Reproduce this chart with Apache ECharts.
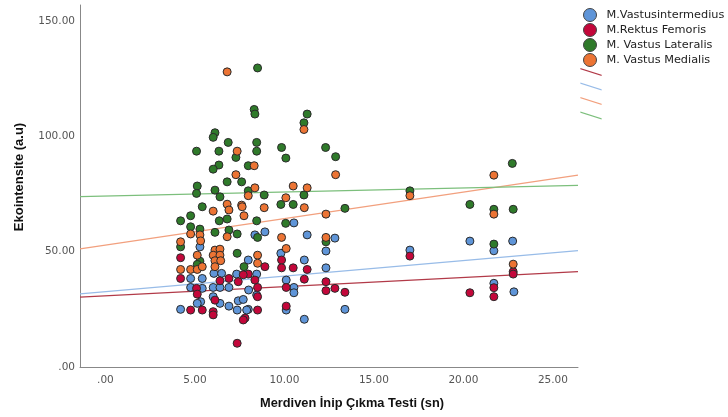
<!DOCTYPE html>
<html>
<head>
<meta charset="utf-8">
<script src="https://cdn.jsdelivr.net/npm/echarts@6/dist/echarts.min.js"></script>
<style>
  body { margin: 0; background: #fff; }
  #main { width: 728px; height: 417px; }
</style>
</head>
<body>
<div id="main"></div>
<script>
// seri isimleri
var seriesNames = ['M.Vastusintermedius', 'M.Rektus Femoris', 'M. Vastus Lateralis', 'M. Vastus Medialis'];
var xTicks = [0, 5, 10, 15, 20, 25];
var yTicks = [0, 50, 100, 150];

// [sure (sn), ekointensite]
var vastusIntermedius = [
    [10.53,62.5],[8.91,58.6],[11.27,57.3],[12.82,55.9],[12.32,50.3],[8.35,57.3],[9.80,49.3],[7.98,46.4],
    [11.11,46.4],[12.32,43.0],[8.45,40.3],[10.1,37.7],[10.53,34.5],[10.53,32.2],[8.45,31.2],[10.1,24.7],
    [7.98,25.0],[13.38,25.0],[11.11,20.7],[5.28,52.1],[4.76,38.4],[5.41,38.4],[6.06,40.6],[6.49,40.6],
    [7.33,40.3],[4.76,34.5],[5.41,34.1],[6.02,34.5],[6.4,34.5],[6.9,34.5],[6.02,30.5],[5.32,28.3],
    [5.13,27.6],[6.4,27.6],[6.9,26.4],[7.42,28.7],[4.2,25.0],[7.36,24.7],[7.89,24.7],[7.7,29.3],[8.0,33.4],
    [17.01,50.7],[20.36,54.6],[21.7,50.4],[22.75,54.6],[21.7,36.3],[22.82,32.6]
];
var rektusFemoris = [
    [9.84,46.4],[8.91,43.5],[9.84,43.0],[10.49,43.0],[11.27,42.3],[7.98,40.3],[8.35,37.7],[11.11,38.1],
    [12.32,37.0],[12.32,33.1],[12.82,34.1],[13.38,32.4],[10.1,34.5],[8.5,34.5],[8.5,30.5],[10.1,26.4],
    [8.5,24.7],[7.8,21.2],[4.2,47.4],[4.2,38.4],[6.9,38.4],[6.4,37.4],[5.09,34.1],[5.13,31.6],[4.76,24.7],
    [5.41,24.7],[6.02,24.0],[6.12,29.0],[7.7,20.4],[7.36,10.3],[6.02,22.6],[7.42,37.0],[7.7,40.0],
    [17.01,48.1],[20.36,32.2],[21.7,34.4],[21.7,30.5],[22.78,41.3],[22.78,40.3]
];
var vastusLateralis = [
    [8.50,129.7],[8.31,111.7],[8.35,109.7],[11.27,109.7],[11.09,105.9],[6.12,101.6],[6.02,99.6],[6.86,97.4],
    [8.45,97.4],[5.09,93.6],[6.34,93.6],[8.45,93.6],[7.29,90.9],[9.84,95.2],[10.08,90.6],[12.30,95.2],
    [12.86,91.2],[6.34,87.6],[6.02,85.8],[7.98,87.3],[6.80,80.3],[7.61,80.3],[5.13,78.5],[5.09,75.3],
    [6.12,76.7],[7.98,76.4],[8.87,74.6],[11.09,74.6],[6.40,73.8],[9.80,70.5],[10.49,70.5],[13.38,68.8],
    [8.45,63.4],[10.07,62.3],[8.5,56.2],[12.32,54.3],[5.41,69.5],[4.76,65.6],[4.2,63.4],[6.36,63.4],
    [6.80,64.2],[4.76,60.8],[5.28,59.8],[6.12,58.4],[6.9,59.4],[7.36,57.7],[4.2,52.1],[7.36,49.3],
    [5.28,45.9],[5.13,44.5],[7.74,43.5],
    [22.73,88.3],[17.01,76.4],[20.36,70.5],[21.7,68.4],[22.78,68.4],[21.7,53.3]
];
var vastusMedialis = [
    [6.80,128.0],[7.36,93.6],[11.09,103.0],[8.31,87.3],[7.29,83.4],[12.86,83.4],[8.35,77.7],[10.49,78.5],
    [11.27,77.7],[7.98,74.3],[10.08,73.4],[8.87,69.1],[11.11,69.1],[12.32,66.3],[9.84,56.2],[10.1,51.4],
    [12.32,56.2],[8.5,48.5],[8.5,45.0],[6.8,70.6],[7.61,70.2],[6.02,67.6],[6.9,68.1],[7.64,69.5],
    [7.74,65.6],[4.76,57.7],[5.28,57.3],[4.2,54.3],[5.32,54.7],[6.80,56.5],[5.13,48.5],[6.12,50.7],
    [6.4,51.1],[6.02,48.5],[6.4,48.5],[6.12,46.1],[6.44,46.1],[4.2,42.3],[4.76,42.3],[5.13,42.3],
    [5.41,43.5],[6.12,43.5],
    [21.7,83.2],[17.01,74.3],[21.7,66.3],[22.78,44.6]
];

// dogrusal uyum cizgileri (eksen uclarinda)
var fitRektus = [[-1.42, 30.3], [26.4, 41.4]];
var fitIntermedius = [[-1.42, 31.7], [26.4, 50.5]];
var fitMedialis = [[-1.42, 51.2], [26.4, 83.2]];
var fitLateralis = [[-1.42, 73.9], [26.4, 78.8]];

var pointColors = ['#5f95d8', '#c3073a', '#2f7a2a', '#ec7434'];
var fitColors = ['#b23a48', '#98bce8', '#f2a07e', '#7cbf7c'];

function fmt(v) {
    var s = v.toFixed(2);
    return v === 0 ? s.substring(1) : s;
}

function scatter(name, data, color) {
    return {
        name: name,
        type: 'scatter',
        data: data,
        symbolSize: 8,
        itemStyle: { color: color, borderColor: '#2a2a2a', borderWidth: 1, opacity: 1 },
        z: 3
    };
}

function fitLine(name, data, color) {
    return {
        name: name,
        type: 'line',
        data: data,
        symbol: 'none',
        silent: true,
        lineStyle: { color: color, width: 1.3 },
        itemStyle: { color: color },
        z: 2
    };
}

var titleFont = 'Liberation Sans';

var myChart = echarts.init(document.getElementById('main'));
var option = {
    backgroundColor: '#fff',
    animation: false,
    textStyle: { fontFamily: 'DejaVu Sans' },
    grid: { left: 80, top: 5, right: 150, bottom: 50 },
    legend: [{
        orient: 'vertical',
        left: 578,
        top: 3,
        itemGap: 1,
        itemWidth: 13,
        itemHeight: 13,
        icon: 'circle',
        data: seriesNames,
        itemStyle: { borderColor: '#444', borderWidth: 1 },
        textStyle: { fontSize: 11.3, color: '#222', padding: [0, 0, 0, 5] }
    }, {
        orient: 'vertical',
        left: 575,
        top: 63,
        itemGap: 6.5,
        itemWidth: 22,
        itemHeight: 8,
        icon: 'path://M0,0L22,7L22,8.3L0,1.3Z',
        data: ['fit1', 'fit2', 'fit3', 'fit4'],
        formatter: function () { return ''; },
        selectedMode: false
    }],
    xAxis: {
        type: 'value',
        min: -1.42,
        max: 26.4,
        name: 'Merdiven İnip Çıkma Testi (sn)',
        nameLocation: 'middle',
        nameGap: 30,
        nameTextStyle: { fontFamily: titleFont, fontSize: 12.8, fontWeight: 'bold', color: '#111', padding: [0, 0, 0, 46] },
        axisLine: { onZero: false, lineStyle: { color: '#888' } },
        axisTick: { show: false },
        splitLine: { show: false },
        axisLabel: { customValues: xTicks, formatter: fmt, color: '#555', fontSize: 10.5, margin: 8 }
    },
    yAxis: {
        type: 'value',
        min: 0,
        max: 157,
        name: 'Ekointensite (a.u)',
        nameLocation: 'middle',
        nameGap: 54,
        nameTextStyle: { fontFamily: titleFont, fontSize: 13, fontWeight: 'bold', color: '#111', padding: [0, 0, 0, 18] },
        axisLine: { show: true, onZero: false, lineStyle: { color: '#888' } },
        axisTick: { show: false },
        splitLine: { show: false },
        axisLabel: { customValues: yTicks, formatter: fmt, color: '#555', fontSize: 10.5, margin: 5 }
    },
    series: [
        fitLine('fit1', fitRektus, fitColors[0]),
        fitLine('fit2', fitIntermedius, fitColors[1]),
        fitLine('fit3', fitMedialis, fitColors[2]),
        fitLine('fit4', fitLateralis, fitColors[3]),
        scatter(seriesNames[0], vastusIntermedius, pointColors[0]),
        scatter(seriesNames[1], rektusFemoris, pointColors[1]),
        scatter(seriesNames[2], vastusLateralis, pointColors[2]),
        scatter(seriesNames[3], vastusMedialis, pointColors[3])
    ]
};
myChart.setOption(option);
</script>
</body>
</html>
